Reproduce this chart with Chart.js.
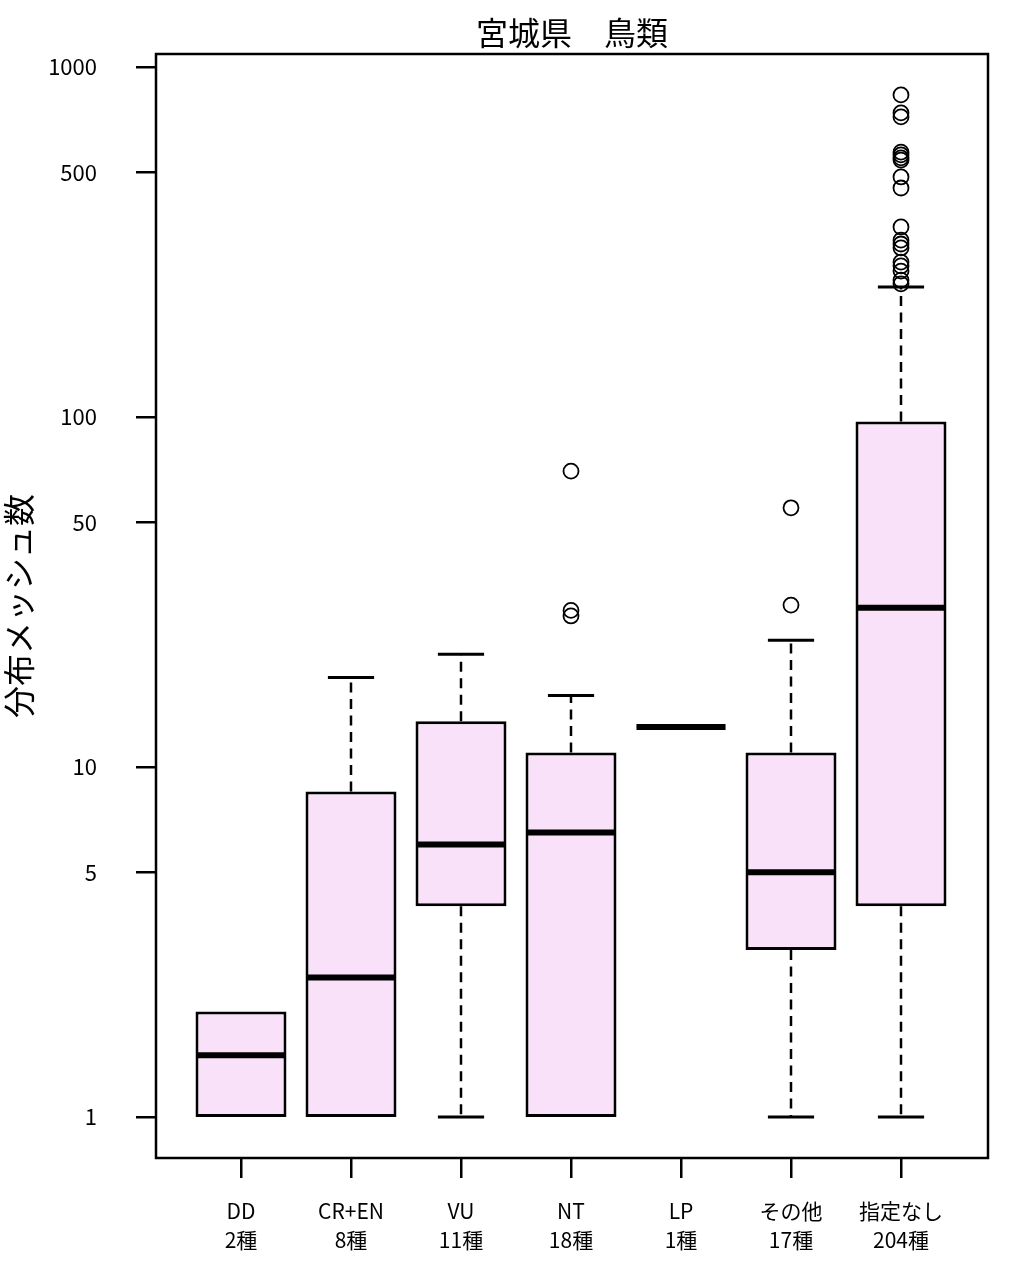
<!DOCTYPE html>
<html>
<head>
<meta charset="utf-8">
<script src="https://cdn.jsdelivr.net/npm/chart.js@4.4.1/dist/chart.umd.min.js"></script>
<style>
  html, body { margin: 0; padding: 0; background: #fff; }
  #wrap { width: 1014px; height: 1272px; }
</style>
</head>
<body>
<div id="wrap"><canvas id="chart" width="1014" height="1272"></canvas></div>
<script>
// ---- data (log scale) ----
const title = '宮城県　鳥類';
const yTitle = '分布メッシュ数';
const categories = ['DD', 'CR+EN', 'VU', 'NT', 'LP', 'その他', '指定なし'];
const speciesCounts = ['2種', '8種', '11種', '18種', '1種', '17種', '204種'];

const whiskerLow  = [1,   1,   1,    1,   13, 1,  1];
const q1          = [1,   1,   4,    1,   13, 3,  4];
const median      = [1.5, 2.5, 6,    6.5, 13, 5,  28.5];
const q3          = [2,   8.5, 13.5, 11,  13, 11, 97];
const whiskerHigh = [2,   18,  21,   16,  13, 23, 235];

const outliersNT = [27, 28, 70];
const outliersOther = [29, 55];
const outliersNone = [240, 246, 261, 270, 277, 304, 312, 320, 349, 451, 485, 542, 550, 561, 571, 720, 739, 832];

const yTicks = [1, 5, 10, 50, 100, 500, 1000];

const FONT = '"Liberation Sans Narrow", "Noto Sans CJK JP", sans-serif';
const CJK = '"Noto Sans CJK JP", sans-serif';
const BOX_FILL = '#f9e1fa';

const boxData = categories
  .map((c, i) => ({ x: i + 1, y: [q1[i], q3[i]] }))
  .filter((d, i) => q1[i] !== q3[i]);

const outlierData = [
  ...outliersNT.map(v => ({ x: 4, y: v })),
  ...outliersOther.map(v => ({ x: 6, y: v })),
  ...outliersNone.map(v => ({ x: 7, y: v })),
];

// medians, whiskers, caps, frame and titles
const boxplotExtras = {
  id: 'boxplotExtras',
  afterDatasetsDraw(chart) {
    const { ctx, scales: { x, y } } = chart;
    const unit = x.getPixelForValue(2) - x.getPixelForValue(1);
    ctx.save();
    ctx.strokeStyle = '#000';
    categories.forEach((c, i) => {
      const cx = x.getPixelForValue(i + 1);
      // whiskers + caps (skipped where the whisker ends on the box edge)
      [[q3[i], whiskerHigh[i]], [q1[i], whiskerLow[i]]].forEach(([a, b]) => {
        if (a === b) return;
        ctx.lineWidth = 2.5;
        ctx.setLineDash([10, 6.5]);
        ctx.beginPath();
        ctx.moveTo(cx, y.getPixelForValue(a));
        ctx.lineTo(cx, y.getPixelForValue(b));
        ctx.stroke();
        ctx.setLineDash([]);
        ctx.lineWidth = 3;
        const py = y.getPixelForValue(b);
        ctx.beginPath();
        ctx.moveTo(cx - unit * 0.21, py);
        ctx.lineTo(cx + unit * 0.21, py);
        ctx.stroke();
      });
      // median
      const my = y.getPixelForValue(median[i]);
      ctx.lineWidth = 6;
      ctx.beginPath();
      ctx.moveTo(cx - unit * 0.405, my);
      ctx.lineTo(cx + unit * 0.405, my);
      ctx.stroke();
    });
    ctx.restore();
  },
  afterDraw(chart) {
    const { ctx, chartArea: a } = chart;
    ctx.save();
    ctx.strokeStyle = '#000';
    ctx.lineWidth = 2.5;
    ctx.strokeRect(a.left, a.top, a.right - a.left, a.bottom - a.top);
    ctx.fillStyle = '#000';
    ctx.textAlign = 'center';
    ctx.textBaseline = 'middle';
    ctx.font = '32px ' + CJK;
    ctx.fillText(title, (a.left + a.right) / 2, 33);
    ctx.translate(19, (a.top + a.bottom) / 2);
    ctx.rotate(-Math.PI / 2);
    ctx.fillText(yTitle, 0, 0);
    ctx.restore();
  }
};

new Chart(document.getElementById('chart'), {
  type: 'bar',
  data: {
    datasets: [
      {
        label: 'box',
        data: boxData,
        backgroundColor: BOX_FILL,
        borderColor: '#000',
        borderWidth: 3,
        borderSkipped: false,
        barPercentage: 1,
        categoryPercentage: 0.827,
      },
      {
        type: 'line',
        label: 'outliers',
        data: outlierData,
        showLine: false,
        pointStyle: 'circle',
        pointRadius: 7.5,
        pointBorderWidth: 1.8,
        pointBorderColor: '#000',
        pointBackgroundColor: 'rgba(0,0,0,0)',
      }
    ]
  },
  options: {
    responsive: false,
    animation: false,
    layout: { padding: { top: 54, right: 26, left: 0, bottom: 0 } },
    plugins: { legend: { display: false }, tooltip: { enabled: false }, title: { display: false } },
    scales: {
      x: {
        type: 'linear',
        min: 0.2273,
        max: 7.7909,
        bounds: 'data',
        offset: false,
        afterBuildTicks: s => { s.ticks = categories.map((c, i) => ({ value: i + 1 })); },
        afterFit: s => { s.height = 1272 - 1158; },
        grid: { offset: false, drawOnChartArea: false, drawTicks: true, tickLength: 20, color: '#000', lineWidth: 2.5 },
        border: { display: false },
        ticks: {
          autoSkip: false,
          maxRotation: 0,
          padding: 19,
          color: '#000',
          font: { family: FONT, size: 21, lineHeight: 1.36 },
          callback: v => [categories[v - 1], speciesCounts[v - 1]],
        },
      },
      y: {
        type: 'logarithmic',
        min: 0.763,
        max: 1089,
        bounds: 'data',
        afterBuildTicks: s => { s.ticks = yTicks.map(v => ({ value: v })); },
        afterFit: s => { s.width = 156; },
        grid: { drawOnChartArea: false, drawTicks: true, tickLength: 20, color: '#000', lineWidth: 2.5 },
        border: { display: false },
        ticks: {
          padding: 39,
          color: '#000',
          font: { family: FONT, size: 22 },
          callback: v => String(v),
        },
      }
    }
  },
  plugins: [boxplotExtras]
});
</script>
</body>
</html>
